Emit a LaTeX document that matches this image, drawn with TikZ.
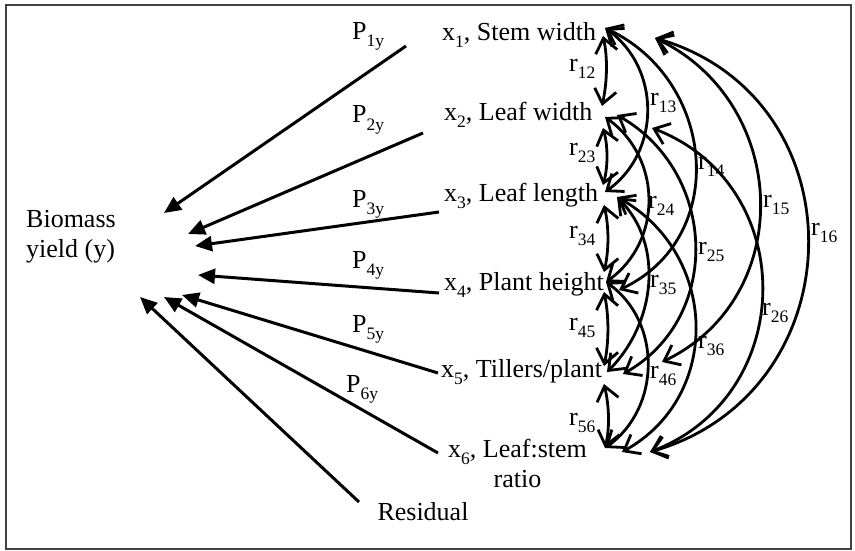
\documentclass[tikz,border=0pt]{standalone}
\usepackage{fontspec}
\setmainfont{Liberation Serif}
\usepackage{tikz}
\usetikzlibrary{
  arrows.meta,
  positioning,
  calc
}
\newcommand{\lowsub}[1]{\raisebox{-7pt}{\fontsize{17.5}{18}\selectfont #1}}
\tikzset{
  varlabel/.style={inner sep=0pt, anchor=base west},
  coeff/.style={inner sep=0pt, anchor=base west},
  corrlab/.style={inner sep=0pt, anchor=base west},
  pathline/.style={-{Triangle[length=17pt, width=15pt]}, line width=3pt},
  corrline/.style={
    {Straight Barb[length=14pt, width=22pt]}-{Straight Barb[length=14pt, width=22pt]},
    line width=2.8pt
  },
  frameline/.style={draw=black!75, line width=2pt}
}

\begin{document}
\begin{tikzpicture}[x=1pt, y=-1pt, font=\fontsize{26}{30}\selectfont]
  \useasboundingbox (0,0) rectangle (855,551);
  \draw[frameline] (5.5,5) rectangle (850.5,549);

  % dependent variable and residual
  \node[inner sep=0pt, anchor=north west, align=left] (yield) at (26,210) {Biomass\\yield (y)};
  \node[inner sep=0pt, anchor=base] (resid) at (423,520) {Residual};

  % traits
  \node[varlabel] (x1) at (442,40.7) {x\lowsub{1}, Stem width};
  \node[varlabel] (x2) at (444,120.7) {x\lowsub{2}, Leaf width};
  \node[varlabel] (x3) at (444,201.5) {x\lowsub{3}, Leaf length};
  \node[varlabel] (x4) at (444,290) {x\lowsub{4}, Plant height};
  \node[varlabel] (x5) at (441,377) {x\lowsub{5}, Tillers/plant};
  \node[varlabel, anchor=north west, align=center] (x6) at (448,439) {x\lowsub{6}, Leaf:stem\\ratio};

  % path coefficients
  \node[coeff] (p1) at (352,40) {P\lowsub{1y}};
  \node[coeff] (p2) at (352,123) {P\lowsub{2y}};
  \node[coeff] (p3) at (352,207) {P\lowsub{3y}};
  \node[coeff] (p4) at (352,268) {P\lowsub{4y}};
  \node[coeff] (p5) at (352,332) {P\lowsub{5y}};
  \node[coeff] (p6) at (346,392) {P\lowsub{6y}};

  % direct paths
  \coordinate (pa1) at (406,46);  \coordinate (pb1) at (164,213);
  \coordinate (pa2) at (423,133); \coordinate (pb2) at (188,234);
  \coordinate (pa3) at (439,212); \coordinate (pb3) at (195,246);
  \coordinate (pa4) at (439,293); \coordinate (pb4) at (198,275);
  \coordinate (pa5) at (438,373); \coordinate (pb5) at (182,295);
  \coordinate (pa6) at (438,453); \coordinate (pb6) at (164,297);
  \coordinate (paR) at (359,502); \coordinate (pbR) at (140,297);
  \draw[pathline] (pa1) -- (pb1);
  \draw[pathline] (pa2) -- (pb2);
  \draw[pathline] (pa3) -- (pb3);
  \draw[pathline] (pa4) -- (pb4);
  \draw[pathline] (pa5) -- (pb5);
  \draw[pathline] (pa6) -- (pb6);
  \draw[pathline] (paR) -- (pbR);

  % arc ends beside the traits
  \coordinate (m1) at (605,28);
  \coordinate (n1) at (603,36);
  \coordinate (s1) at (655,38);
  \coordinate (u2) at (602,106);
  \coordinate (m2) at (605,117);
  \coordinate (q2) at (617,115);
  \coordinate (l2) at (603,128);
  \coordinate (s2) at (652,128);
  \coordinate (u3) at (603,185);
  \coordinate (m3) at (605,192);
  \coordinate (q3) at (617,197);
  \coordinate (l3) at (604,205);
  \coordinate (u4) at (604,272);
  \coordinate (m4) at (606,282);
  \coordinate (q4) at (619,290);
  \coordinate (l4) at (604,292);
  \coordinate (s5) at (662,362);
  \coordinate (u5) at (604,366);
  \coordinate (m5) at (607,372);
  \coordinate (q5) at (623,374);
  \coordinate (l5) at (604,384);
  \coordinate (m6) at (605,448);
  \coordinate (q6) at (622,452);
  \coordinate (s6) at (650,452);

  % correlations
  \draw[corrline] (n1) .. controls +(5,23) and +(5,-23) .. (u2);
  \draw[corrline] (l2) .. controls +(5,18) and +(5,-18) .. (u3);
  \draw[corrline] (l3) .. controls +(5,22) and +(5,-22) .. (u4);
  \draw[corrline] (l4) .. controls +(5,24) and +(5,-24) .. (u5);
  \draw[corrline] (l5) .. controls +(5,21) and +(5,-21) .. (m6);
  \draw[corrline] (m1) .. controls +(56,40) and +(56,-40) .. (m3);
  \draw[corrline] (m2) .. controls +(57,41) and +(57,-41) .. (m4);
  \draw[corrline] (q3) .. controls +(48,48) and +(48,-48) .. (m5);
  \draw[corrline] (m4) .. controls +(56,40) and +(56,-40) .. (m6);
  \draw[corrline] (m1) .. controls +(111,52) and +(111,-52) .. (q4);
  \draw[corrline] (q2) .. controls +(100,57) and +(100,-57) .. (q5);
  \draw[corrline] (q3) .. controls +(101,56) and +(101,-56) .. (q6);
  \draw[corrline] (s1) .. controls +(135,65) and +(135,-65) .. (s5);
  \draw[corrline] (s2) .. controls +(148,57) and +(148,-57) .. (s6);
  \draw[corrline] (s1) .. controls +(207,60) and +(207,-60) .. (s6);

  \node[corrlab] (r12) at (569,72) {r\lowsub{12}};
  \node[corrlab] (r23) at (569,155) {r\lowsub{23}};
  \node[corrlab] (r34) at (569,238) {r\lowsub{34}};
  \node[corrlab] (r45) at (569,330) {r\lowsub{45}};
  \node[corrlab] (r56) at (569,425) {r\lowsub{56}};
  \node[corrlab] (r13) at (650,106) {r\lowsub{13}};
  \node[corrlab] (r24) at (648,208) {r\lowsub{24}};
  \node[corrlab] (r35) at (650,287) {r\lowsub{35}};
  \node[corrlab] (r46) at (650,378) {r\lowsub{46}};
  \node[corrlab] (r14) at (698,169) {r\lowsub{14}};
  \node[corrlab] (r25) at (698,254) {r\lowsub{25}};
  \node[corrlab] (r36) at (698,348) {r\lowsub{36}};
  \node[corrlab] (r15) at (763,207) {r\lowsub{15}};
  \node[corrlab] (r26) at (762,315) {r\lowsub{26}};
  \node[corrlab] (r16) at (811,235) {r\lowsub{16}};
\end{tikzpicture}
\end{document}
